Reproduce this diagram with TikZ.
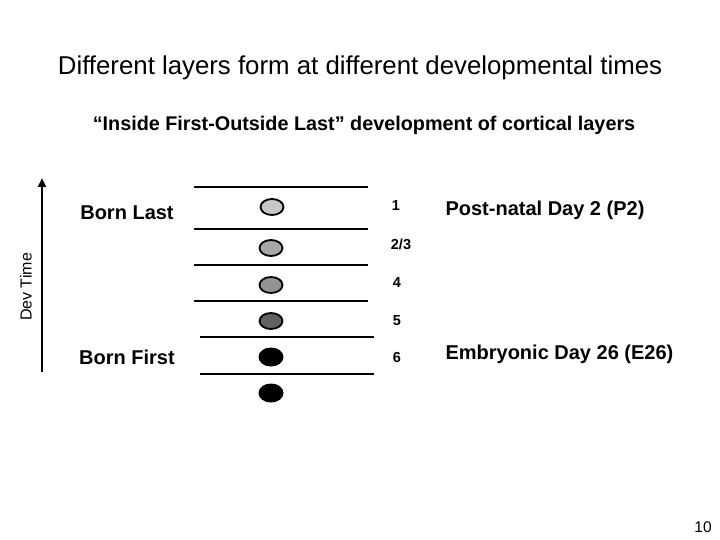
\documentclass[tikz,border=0pt]{standalone}
\usepackage{fontspec}
\setmainfont{Liberation Sans}
\usetikzlibrary{arrows.meta,shapes.geometric}
\begin{document}
\begin{tikzpicture}[x=1pt,y=-1pt,
  layer/.style={line width=2.2pt},
  cell/.style={ellipse,draw=black,line width=1.8pt,minimum width=23pt,minimum height=16pt,inner sep=0pt},
  bcell/.style={ellipse,fill=black,minimum width=25pt,minimum height=19pt,inner sep=0pt},
  num/.style={font=\fontsize{14.5}{17}\selectfont\bfseries},
  lbl/.style={font=\fontsize{20}{24}\selectfont\bfseries}]
\useasboundingbox (0,0) rectangle (720,540);
\node (title) at (360,68) {\fontsize{25.8}{30}\selectfont Different layers form at different developmental times};
\node (sub) at (364,125) {\fontsize{19.8}{24}\selectfont\bfseries “Inside First-Outside Last” development of cortical layers};
% layer lines
\coordinate (l1a) at (194,187); \coordinate (l1b) at (368,187);
\coordinate (l2a) at (194,229); \coordinate (l2b) at (368,229);
\coordinate (l3a) at (194,265); \coordinate (l3b) at (368,265);
\coordinate (l4a) at (194,301); \coordinate (l4b) at (368,301);
\coordinate (l5a) at (200,337); \coordinate (l5b) at (374,337);
\coordinate (l6a) at (200,374); \coordinate (l6b) at (374,374);
\foreach \i in {1,...,6} \draw[layer] (l\i a) -- (l\i b);
% cells
\node[cell,fill=black!22] (c1) at (272,207) {};
\node[cell,fill=black!35] (c2) at (271,248) {};
\node[cell,fill=black!42] (c3) at (271,285) {};
\node[cell,fill=black!62] (c4) at (271,321) {};
\node[bcell] (c5) at (271,357) {};
\node[bcell] (c6) at (271,393) {};
% numbers
\node[num] (n1) at (396,206) {1};
\node[num] (n2) at (401,244) {2/3};
\node[num] (n3) at (397,283) {4};
\node[num] (n4) at (397,321) {5};
\node[num] (n5) at (397,358) {6};
% labels
\node[lbl] (bl) at (127,213) {Born Last};
\node[lbl] (bf) at (127,357) {Born First};
\node[lbl,anchor=west] (p2) at (442,210) {Post-natal Day 2 (P2)};
\node[lbl,anchor=west] (e26) at (442,354) {Embryonic Day 26 (E26)};
% arrow
\coordinate (abot) at (42,372);
\coordinate (atop) at (42,178);
\draw[line width=2.6pt,-{Triangle[length=9pt,width=8pt]}] (abot) -- (atop);
\node[rotate=90,font=\fontsize{16}{18}\selectfont] (dev) at (26,287) {Dev Time};
\node[font=\fontsize{15.5}{18}\selectfont] (pg) at (703,527) {10};
\end{tikzpicture}
\end{document}
